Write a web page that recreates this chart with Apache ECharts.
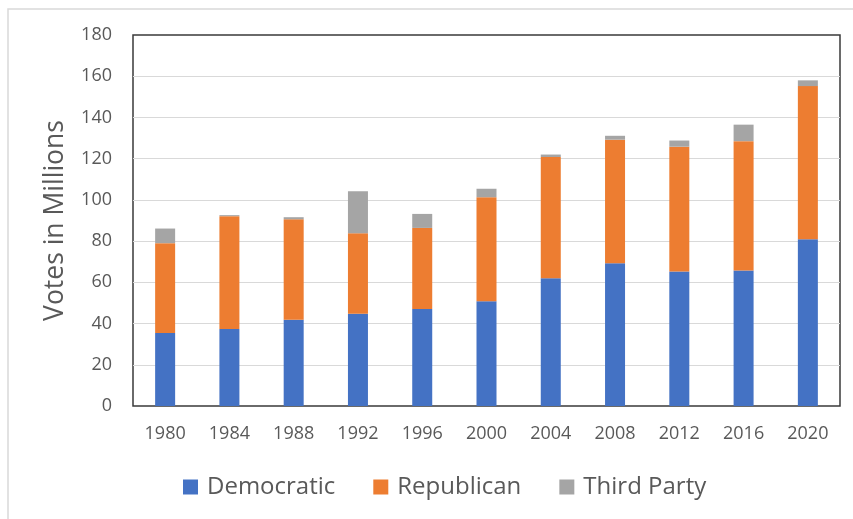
<!DOCTYPE html>
<html>
<head>
<meta charset="utf-8">
<script src="https://cdn.jsdelivr.net/npm/echarts@6/dist/echarts.min.js"></script>
<style>
  html, body { margin: 0; padding: 0; background: #fff; }
  #chart { width: 853px; height: 519px; }
</style>
</head>
<body>
<div id="chart"></div>
<script>
// election years
const years = ['1980', '1984', '1988', '1992', '1996', '2000', '2004', '2008', '2012', '2016', '2020']
// votes in millions
const democratic = [35.4, 37.4, 41.8, 44.7, 47.1, 50.8, 62.0, 69.3, 65.2, 65.7, 80.9]
const republican = [43.6, 54.7, 48.8, 39.1, 39.3, 50.5, 58.8, 59.9, 60.6, 62.8, 74.3]
const thirdParty = [7.1, 0.5, 1.0, 20.4, 6.8, 4.1, 1.2, 1.9, 3.0, 8.0, 2.8]

const FONT = 'Open Sans'
const TEXT = '#595959'

const chart = echarts.init(document.getElementById('chart'))

const barSeries = (name, data, color) => ({
  name: name,
  type: 'bar',
  stack: 'votes',
  barWidth: 20,
  data: data,
  itemStyle: { color: color },
  emphasis: { disabled: true }
})

chart.setOption({
  animation: false,
  textStyle: { fontFamily: FONT },
  // light outer chart-area frame
  graphic: [
    {
      type: 'rect',
      shape: { x: 8, y: 9, width: 900, height: 600 },
      style: { fill: 'none', stroke: '#d9d9d9', lineWidth: 1.5 },
      silent: true
    }
  ],
  grid: {
    left: 133,
    right: 13,
    top: 35,
    bottom: 113,
    show: true,
    borderColor: '#3a3a3a',
    borderWidth: 1.5,
    backgroundColor: 'transparent'
  },
  legend: {
    left: 178,
    top: 470,
    icon: 'rect',
    itemWidth: 15,
    itemHeight: 15,
    itemGap: 38,
    textStyle: { fontSize: 24, color: TEXT, fontFamily: FONT, padding: [0, 0, 0, 4] },
    data: ['Democratic', 'Republican', 'Third Party']
  },
  xAxis: {
    type: 'category',
    data: years,
    axisLine: { show: false },
    axisTick: { show: false },
    axisLabel: { fontSize: 18, color: TEXT, margin: 19, fontFamily: FONT }
  },
  yAxis: {
    type: 'value',
    min: 0,
    max: 180,
    interval: 20,
    name: 'Votes in Millions',
    nameLocation: 'middle',
    nameGap: 64,
    nameTextStyle: { fontSize: 26.5, color: TEXT, fontFamily: FONT },
    axisLine: { show: false },
    axisTick: { show: false },
    axisLabel: { fontSize: 18, color: TEXT, margin: 21, fontFamily: FONT },
    splitLine: {
      showMinLine: false,
      showMaxLine: false,
      lineStyle: { color: '#d9d9d9', width: 1.2 }
    }
  },
  series: [
    barSeries('Democratic', democratic, '#4472C4'),
    barSeries('Republican', republican, '#ED7D31'),
    barSeries('Third Party', thirdParty, '#A5A5A5')
  ]
})
</script>
</body>
</html>
